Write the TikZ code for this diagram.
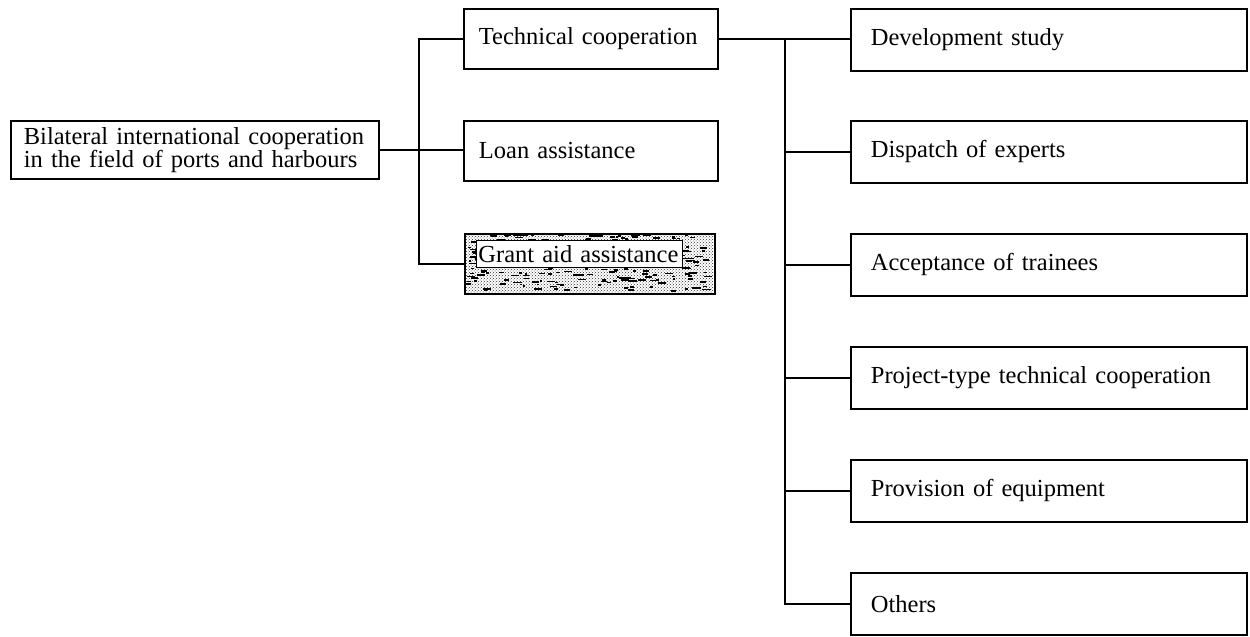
\documentclass[tikz,border=0pt]{standalone}
\usepackage{fontspec}
\setmainfont{Liberation Serif}
\usetikzlibrary{patterns}
\begin{document}
\begin{tikzpicture}[x={(1pt,0)},y={(0,-1pt)},
  line width=1.8pt,
  label font/.style={font=\fontsize{24.5}{23}\selectfont},
  box/.style={draw,rectangle,inner sep=0pt,anchor=north west,line width=1.8pt,label font},
  midbox/.style={box,minimum width=254pt,minimum height=60pt,
    text width=224pt,align=left},
  rbox/.style={box,minimum width=396pt,minimum height=62pt,
    text width=356pt,align=left},
  link/.style={line width=1.8pt}]
\useasboundingbox (0,0) rectangle (1250,637);
\fill[white] (0,0) rectangle (1250,637);

% root
\node[box,minimum width=368pt,minimum height=58pt,text width=342pt,align=left]
  (root) at (10,120) {Bilateral international cooperation\\in the field of ports and harbours};

% second level
\node[midbox] (tech) at (463,8) {Technical cooperation};
\node[midbox] (loan) at (463,120) {Loan assistance};

% stippled screen of the grant aid box
\fill[pattern=crosshatch dots,pattern color=black!80] (465,233) rectangle (713,293);
\pgfmathsetseed{11}
\foreach \i in {1,...,260}{
  \pgfmathsetmacro{\sx}{466+rnd*240}
  \pgfmathsetmacro{\sy}{234+rnd*56}
  \pgfmathsetmacro{\sw}{2+rnd*7}
  \fill[black] (\sx,\sy) rectangle ++(\sw,1.6);
}
\node[box,minimum width=250pt,minimum height=60pt] (grant) at (464,233) {};
\node[draw,fill=white,line width=0.8pt,inner xsep=2pt,inner ysep=0pt,
  minimum height=27pt,text width=202pt,align=left,
  anchor=west,label font] (granttext) at (476,254) {Grant aid assistance};

% third level
\node[rbox] (dev)  at (850,8)   {Development study};
\node[rbox] (disp) at (850,120) {Dispatch of experts};
\node[rbox] (acc)  at (850,233) {Acceptance of trainees};
\node[rbox] (proj) at (850,346) {Project-type technical cooperation};
\node[rbox] (prov) at (850,459) {Provision of equipment};
\node[rbox] (oth)  at (850,572) {Others};

% first branching
\coordinate (busL) at (419,0);
\draw[link] (root.east) -- (root.east -| loan.west);
\draw[link] (tech.west) -- (tech.west -| busL) |- (grant.west);

% second branching
\coordinate (busR) at (785,0);
\draw[link] (tech.east) -- (tech.east -| dev.west);
\draw[link] (tech.east -| busR) |- (oth.west);
\foreach \n in {disp,acc,proj,prov}
  \draw[link] (\n.west -| busR) -- (\n.west);
\end{tikzpicture}
\end{document}
